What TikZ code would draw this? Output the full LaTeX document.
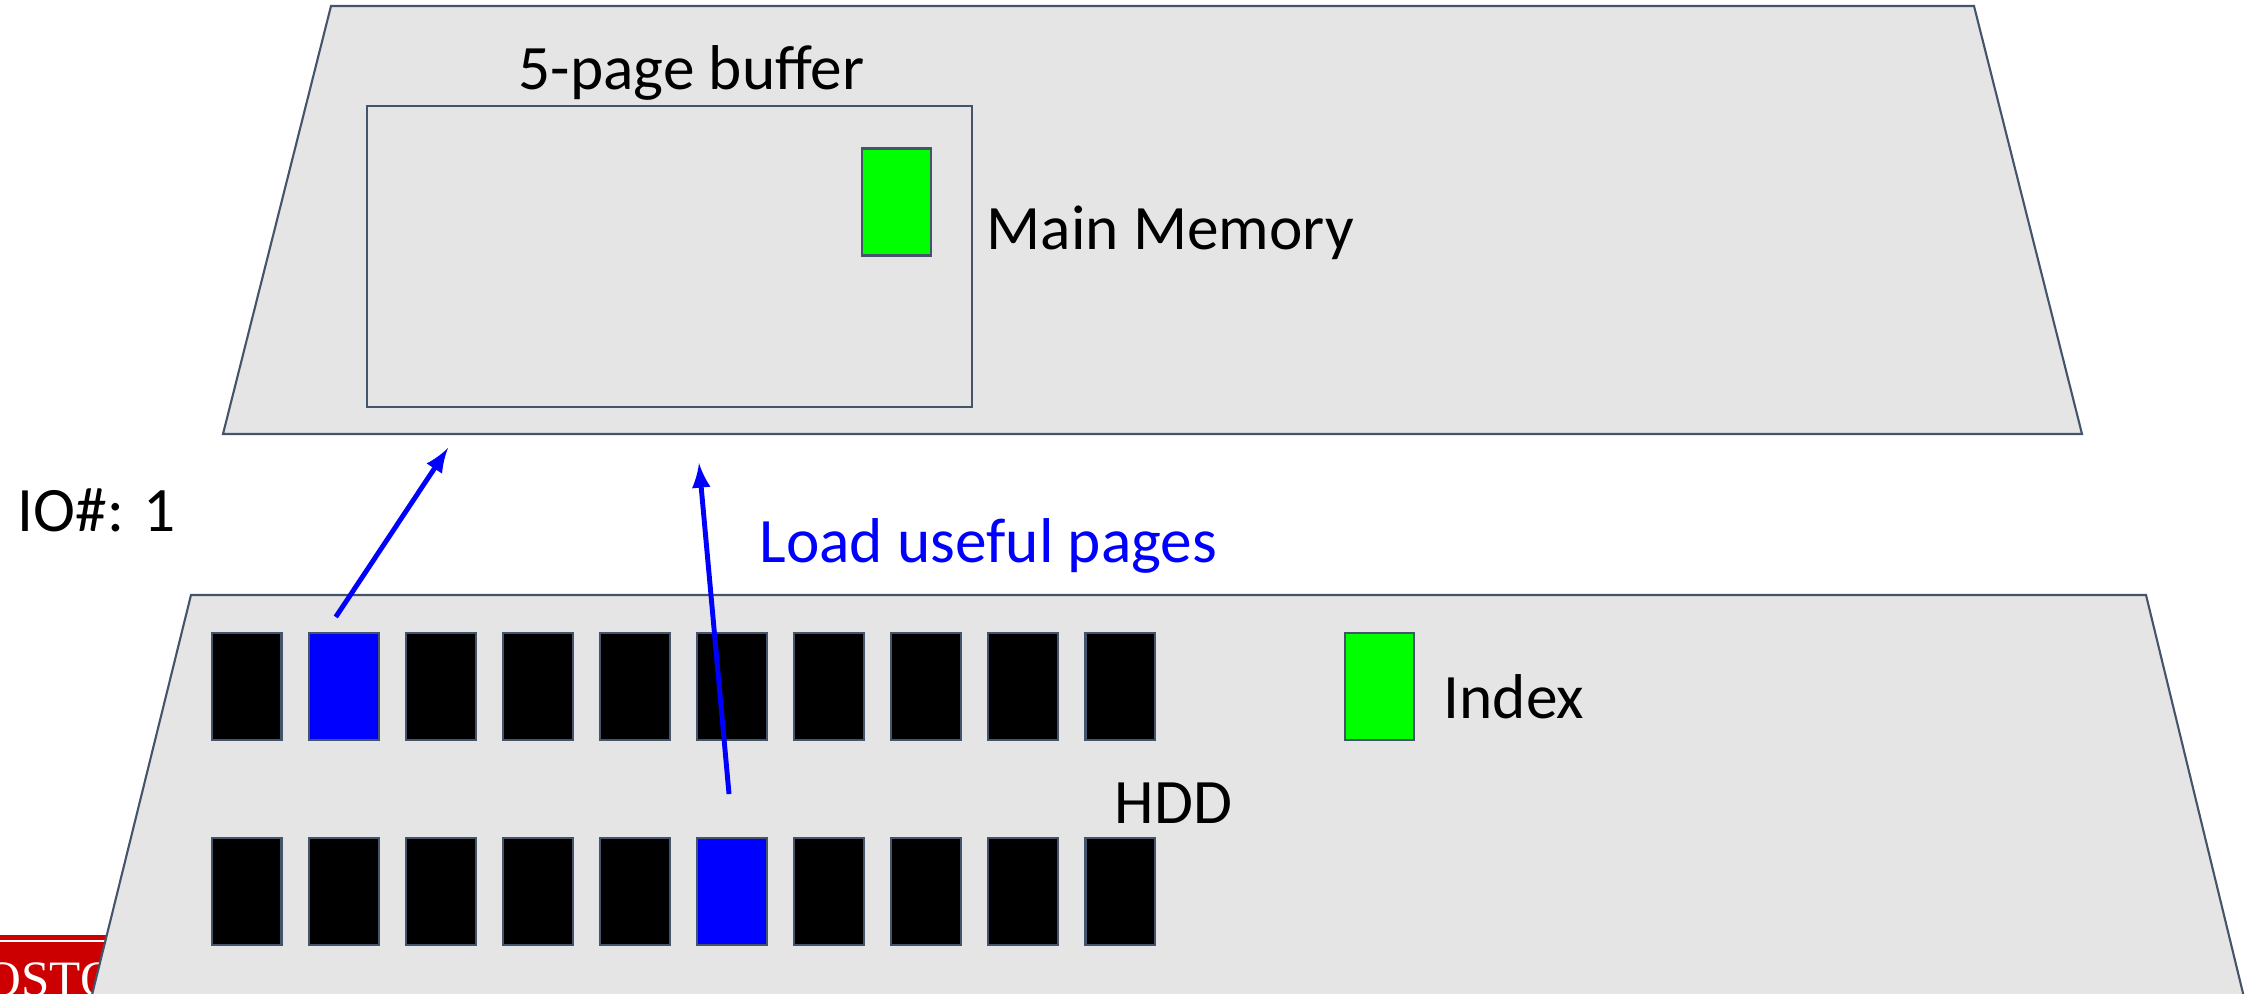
\documentclass[tikz,border=0pt]{standalone}
\usepackage{fontspec}
\setmainfont{Carlito}
\newfontfamily\logofont{Liberation Serif}
\usetikzlibrary{arrows,positioning}
\definecolor{edge}{RGB}{68,84,106}
\definecolor{memgray}{RGB}{229,229,229}
\definecolor{bured}{RGB}{204,0,0}
\tikzstyle{disk}=[draw=edge,line width=.6pt,fill=memgray]
\tikzstyle{page}=[rectangle,draw=edge,line width=.6pt,fill=black,minimum width=.695cm,minimum height=1.07cm,inner sep=0,outer sep=0]
\tikzstyle{hit}=[page,fill=blue]
\tikzstyle{idx}=[page,fill=green]
\tikzstyle{txt}=[inner sep=0,anchor=base west,font=\fontsize{18}{22}\selectfont]

\begin{document}
\begin{tikzpicture}[x=.01cm,y=-.01cm,>=latex]
	\useasboundingbox (0,0) rectangle (2245,994);
	\clip (0,0) rectangle (2245,994);
	\fill[bured] (-10,935) rectangle (300,1010);
	\draw[white,line width=.4pt] (0,941) -- (300,941);
	\node[inner sep=0,anchor=base west,text=white,font=\logofont\fontsize{14.5}{16}\selectfont] (logo) at (-50,996) {BOSTON};

	\draw[disk] (331,6) -- (1974,6) -- (2082,434) -- (223,434) -- cycle;
	\draw[disk] (191,595) -- (2146,595) -- (2269,1100) -- (66,1100) -- cycle;

	\node[rectangle,draw=edge,line width=.5pt,minimum width=6.05cm,minimum height=3.01cm,inner sep=0] (buffer) at (669.5,256.5) {};
	\node[idx] (mmpage) at (896.5,202) {};
	\node[txt] (buflabel) at (518,90) {5-page buffer};
	\node[txt] (mainmem) at (986,249) {Main Memory};
	\node[txt] (ionum) at (17,531) {IO\#: 1};
	\node[txt,text=blue] (load) at (759,562) {Load useful pages};

	\begin{scope}[node distance=.275cm]
		\node[page]	(top1)	at (246.75,686.5)	{};
		\node[hit]	(top2)	[right=of top1]		{};
		\node[page]	(top3)	[right=of top2]		{};
		\node[page]	(top4)	[right=of top3]		{};
		\node[page]	(top5)	[right=of top4]		{};
		\node[page]	(top6)	[right=of top5]		{};
		\node[page]	(top7)	[right=of top6]		{};
		\node[page]	(top8)	[right=of top7]		{};
		\node[page]	(top9)	[right=of top8]		{};
		\node[page]	(top10)	[right=of top9]		{};

		\node[page]	(bot1)	[below=.98cm of top1]	{};
		\node[page]	(bot2)	[right=of bot1]		{};
		\node[page]	(bot3)	[right=of bot2]		{};
		\node[page]	(bot4)	[right=of bot3]		{};
		\node[page]	(bot5)	[right=of bot4]		{};
		\node[hit]	(bot6)	[right=of bot5]		{};
		\node[page]	(bot7)	[right=of bot6]		{};
		\node[page]	(bot8)	[right=of bot7]		{};
		\node[page]	(bot9)	[right=of bot8]		{};
		\node[page]	(bot10)	[right=of bot9]		{};
	\end{scope}
	\node[idx] (index) [right=1.895cm of top10] {};
	\node[txt] (indexlabel) at (1443,718) {Index};
	\node[txt] (hdd) at (1114,823) {HDD};

	\coordinate (tip1) at (448,448);
	\coordinate (tip2) at (699,463);
	\draw[->,blue,line width=1.4pt] ([xshift=-.08cm,yshift=.16cm]top2.north) -- (tip1);
	\draw[->,blue,line width=1.4pt] ([xshift=-.03cm,yshift=.44cm]bot6.north) -- (tip2);
\end{tikzpicture}
\end{document}
